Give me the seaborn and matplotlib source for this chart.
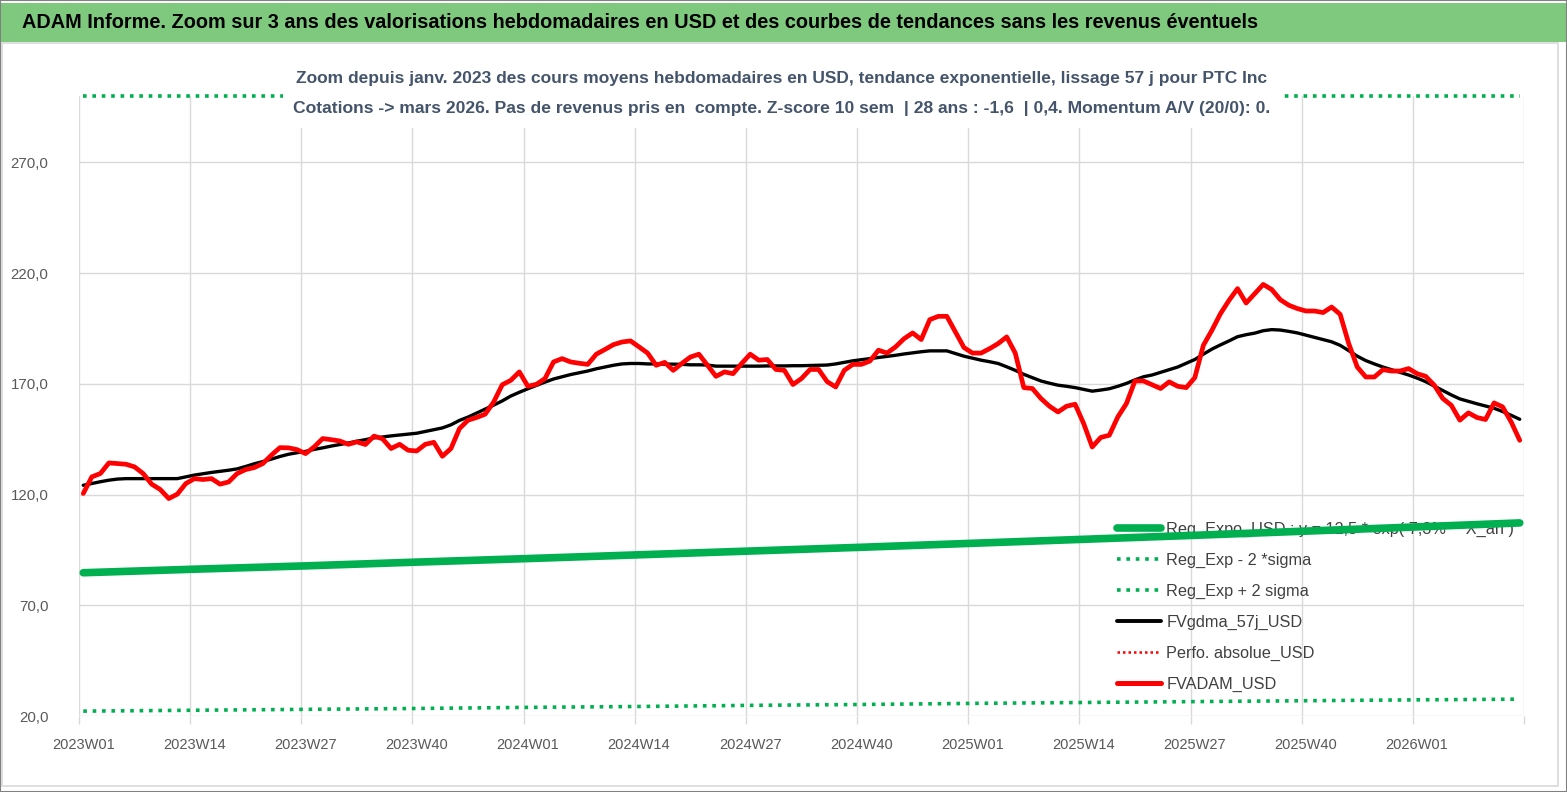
import numpy as np
import pandas as pd
import seaborn as sns
import matplotlib
matplotlib.use("Agg")
import matplotlib.pyplot as plt
from matplotlib.lines import Line2D
from matplotlib.patches import Rectangle
from matplotlib.ticker import FixedLocator, FuncFormatter

# Data (weekly, 2023W01 -> 2026W13)

fvadam_usd = [
    120.5, 128.0, 129.5, 134.3, 134.0, 133.7, 132.5, 129.5, 124.7, 122.3,
    118.2, 120.2, 125.0, 127.2, 126.8, 127.2, 124.7, 125.7, 129.5, 131.3,
    132.2, 134.0, 137.8, 141.2, 141.1, 140.3, 138.5, 141.5, 145.3, 144.8,
    144.2, 142.7, 143.8, 142.6, 146.4, 145.2, 140.8, 142.7, 140.0, 139.7,
    142.7, 143.6, 137.3, 140.8, 149.8, 153.6, 154.8, 156.3, 161.8, 169.6,
    171.6, 175.4, 168.9, 169.8, 172.4, 179.9, 181.4, 179.9, 179.3, 178.8,
    183.4, 185.5, 187.7, 188.9, 189.4, 186.7, 183.9, 178.4, 179.7, 176.1,
    179.2, 182.1, 183.4, 178.4, 173.4, 175.4, 174.6, 179.2, 183.4, 180.7,
    181.0, 176.5, 176.1, 169.7, 172.4, 176.5, 176.5, 171.0, 168.6, 176.1,
    178.8, 178.8, 180.3, 185.2, 183.9, 186.7, 190.4, 193.0, 190.0, 199.0,
    200.5, 200.5, 193.4, 186.4, 183.9, 183.9, 185.9, 188.2, 191.2, 183.9,
    168.3, 167.9, 163.4, 159.9, 157.3, 159.9, 160.8, 152.1, 141.5, 145.8,
    146.8, 155.1, 161.1, 171.3, 171.3, 169.6, 167.9, 170.9, 168.9, 168.3,
    172.8, 187.4, 194.2, 201.7, 207.7, 213.0, 206.5, 210.7, 214.9, 212.6,
    208.0, 205.5, 204.0, 202.9, 202.9, 202.2, 204.7, 201.4, 188.2, 177.6,
    173.1, 173.1, 176.4, 175.8, 175.8, 176.9, 174.6, 173.4, 169.4, 163.4,
    160.3, 153.6, 156.9, 154.8, 153.9, 161.4, 159.6, 152.8, 144.5,
]

fvgdma_57j_usd = [
    124.2, 125.0, 125.8, 126.5, 127.0, 127.2, 127.2, 127.2, 127.2, 127.2,
    127.2, 127.2, 128.0, 128.8, 129.4, 130.0, 130.5, 131.0, 131.6, 132.7,
    133.9, 134.9, 136.0, 137.2, 138.2, 138.9, 139.5, 140.4, 141.1, 141.9,
    142.6, 143.3, 144.1, 144.8, 145.6, 146.0, 146.5, 146.9, 147.3, 147.7,
    148.5, 149.3, 150.1, 151.5, 153.5, 155.0, 156.8, 158.6, 160.4, 162.3,
    164.5, 166.2, 167.8, 169.3, 170.8, 172.2, 173.2, 174.2, 175.0, 175.8,
    176.8, 177.6, 178.4, 179.0, 179.2, 179.2, 179.0, 179.0, 178.9, 178.9,
    178.8, 178.6, 178.6, 178.5, 178.0, 178.0, 178.0, 178.0, 178.0, 178.0,
    178.1, 178.1, 178.1, 178.2, 178.2, 178.3, 178.4, 178.5, 179.0, 179.7,
    180.4, 180.9, 181.4, 181.9, 182.4, 182.9, 183.5, 184.0, 184.5, 184.9,
    184.9, 184.9, 183.7, 182.5, 181.6, 180.7, 180.0, 179.2, 177.7, 176.1,
    174.3, 172.8, 171.3, 170.3, 169.4, 168.9, 168.3, 167.5, 166.7, 167.2,
    167.8, 168.9, 170.2, 171.8, 173.2, 174.0, 175.2, 176.4, 177.6, 179.3,
    181.0, 183.4, 185.7, 187.6, 189.4, 191.3, 192.2, 192.9, 194.0, 194.5,
    194.3, 193.7, 193.0, 192.0, 191.0, 190.0, 189.0, 187.4, 185.0, 182.5,
    180.5, 179.0, 177.6, 176.4, 175.2, 174.0, 172.6, 171.0, 169.0, 167.0,
    165.0, 163.2, 162.1, 161.0, 160.0, 159.0, 157.5, 155.8, 154.0,
]

# trend curves, read every 13 weeks
trend_weeks = [0, 13, 26, 39, 52, 65, 78, 91, 104, 117, 130, 143, 156, 168]
reg_expo_usd = [84.7, 86.3, 87.8, 89.5, 91.1, 92.8, 94.5, 96.2, 98.0, 99.8,
                101.6, 103.5, 105.4, 107.2]
reg_minus_2sigma = [22.2, 22.6, 23.0, 23.4, 23.9, 24.3, 24.8, 25.2, 25.7, 26.1,
                    26.5, 26.9, 27.3, 27.6]
# + 2 sigma is above the axis max, Excel draws it pinned on the top edge
reg_plus_2sigma = [300.0] * len(trend_weeks)

tick_labels = ["2023W01", "2023W14", "2023W27", "2023W40", "2024W01", "2024W14",
               "2024W27", "2024W40", "2025W01", "2025W14", "2025W27", "2025W40",
               "2026W01"]
y_ticks = [20, 70, 120, 170, 220, 270]

legend_labels = [
    "Reg_Expo_USD : y = 12,5 * exp( 7,3% *  X_an )",
    "Reg_Exp - 2 *sigma",
    "Reg_Exp + 2 sigma",
    "FVgdma_57j_USD",
    "Perfo. absolue_USD",
    "FVADAM_USD",
]

title = ("ADAM Informe. Zoom sur 3 ans des valorisations hebdomadaires en USD "
         "et des courbes de tendances sans les revenus éventuels")
subtitle_1 = ("Zoom depuis janv. 2023 des cours moyens hebdomadaires en USD, "
              "tendance exponentielle, lissage 57 j pour PTC Inc")
subtitle_2 = ("Cotations -> mars 2026. Pas de revenus pris en  compte. "
              "Z-score 10 sem  | 28 ans : -1,6  | 0,4. Momentum A/V (20/0): 0.")

# Style
sns.set_style("white")
plt.rcParams['font.family'] = ['Liberation Sans', 'DejaVu Sans']

c_green = "#00B050"
c_red = "#FF0000"
c_grid = "#D9D9D9"
c_tick = "#595959"

df = pd.DataFrame({
    "week": np.arange(len(fvadam_usd)),
    "fvadam": fvadam_usd,
    "fvgdma": fvgdma_57j_usd,
})
df_trend = pd.DataFrame({
    "week": trend_weeks,
    "reg": reg_expo_usd,
    "low": reg_minus_2sigma,
    "high": reg_plus_2sigma,
})

W, H = 1567, 792
fig = plt.figure(figsize=(W / 100, H / 100), dpi=100)
ax = fig.add_axes([79 / W, 1 - 716 / H, 1445 / W, 620 / H])

dots = (0, (1, 1.6))

# lines
sns.lineplot(data=df_trend, x="week", y="reg", ax=ax, color=c_green, lw=5.5, zorder=3)
sns.lineplot(data=df_trend, x="week", y="low", ax=ax, color=c_green, lw=2.6, ls=dots, zorder=3)
sns.lineplot(data=df_trend, x="week", y="high", ax=ax, color=c_green, lw=2.6, ls=dots, zorder=3)
ax.lines[-1].set_clip_on(False)
sns.lineplot(data=df, x="week", y="fvgdma", ax=ax, color="black", lw=2.4, zorder=4)
sns.lineplot(data=df, x="week", y="fvadam", ax=ax, color=c_red, lw=3.4, zorder=5)

# axes
ax.set_xlim(-0.5, len(fvadam_usd) - 0.5)
ax.set_ylim(20, 300)
ax.set_xlabel("")
ax.set_ylabel("")
for s in ax.spines.values():
    s.set_visible(False)

# gridlines sit between categories, labels sit on the category
ax.xaxis.set_major_locator(FixedLocator(np.arange(0, 170, 13) - 0.5))
ax.xaxis.set_major_formatter(FuncFormatter(lambda x, p: ""))
ax.xaxis.set_minor_locator(FixedLocator(np.arange(0, 157, 13)))
ax.set_xticklabels(tick_labels, minor=True)
ax.tick_params(axis="x", which="major", length=6, width=1, color=c_grid, bottom=True)
ax.tick_params(axis="x", which="minor", length=0, pad=16, labelsize=10.5, labelcolor=c_tick)

ax.set_yticks(y_ticks)
ax.yaxis.set_major_formatter(FuncFormatter(lambda y, p: f"{y:.1f}".replace(".", ",")))
ax.tick_params(axis="y", length=0, pad=22, labelsize=10.8, labelcolor=c_tick)

ax.grid(True, axis="both", which="major", color=c_grid, lw=1)
ax.set_axisbelow(True)

# legend
handles = [
    Line2D([], [], color=c_green, lw=5.5),
    Line2D([], [], color=c_green, lw=2.6, ls=dots),
    Line2D([], [], color=c_green, lw=2.6, ls=dots),
    Line2D([], [], color="black", lw=2.8),
    Line2D([], [], color=c_red, lw=1.8, ls=(0, (1, 1.2))),
    Line2D([], [], color=c_red, lw=3.6),
]
leg = ax.legend(handles, legend_labels, loc="upper left", bbox_to_anchor=(0.718, 0.313),
                frameon=False, fontsize=11.7, handlelength=2.75, handletextpad=0.32,
                labelspacing=0.97, borderpad=0, borderaxespad=0)
for t in leg.get_texts():
    t.set_color("#404040")
leg.set_zorder(1)

# title band and frame
fig.patches.append(Rectangle((0, 1 - 42 / H), 1, 39 / H, transform=fig.transFigure,
                             facecolor="#7FC97F", edgecolor="none", zorder=1))
fig.patches.append(Rectangle((2 / W, 6 / H), 1556 / W, (H - 49) / H, transform=fig.transFigure,
                             facecolor="none", edgecolor=c_grid, lw=1.2, zorder=1))
fig.patches.append(Rectangle((0, 0), 1, 1, transform=fig.transFigure,
                             facecolor="none", edgecolor="#808080", lw=1.5, zorder=2))
fig.text(22 / W, 1 - 23 / H, title, ha="left", va="center", fontsize=14.3,
         fontweight="bold", color="black")

# subtitle box (hides the + 2 sigma line behind it)
fig.patches.append(Rectangle((283 / W, 1 - 128 / H), 1000 / W, 66 / H, transform=fig.transFigure,
                             facecolor="white", edgecolor="none", zorder=2))
fig.text(0.4985, 1 - 78 / H, subtitle_1, ha="center", va="center", fontsize=12.5,
         fontweight="bold", color="#44546A")
fig.text(0.4985, 1 - 108 / H, subtitle_2, ha="center", va="center", fontsize=12.6,
         fontweight="bold", color="#44546A")

fig.savefig("out.png", dpi=100)
